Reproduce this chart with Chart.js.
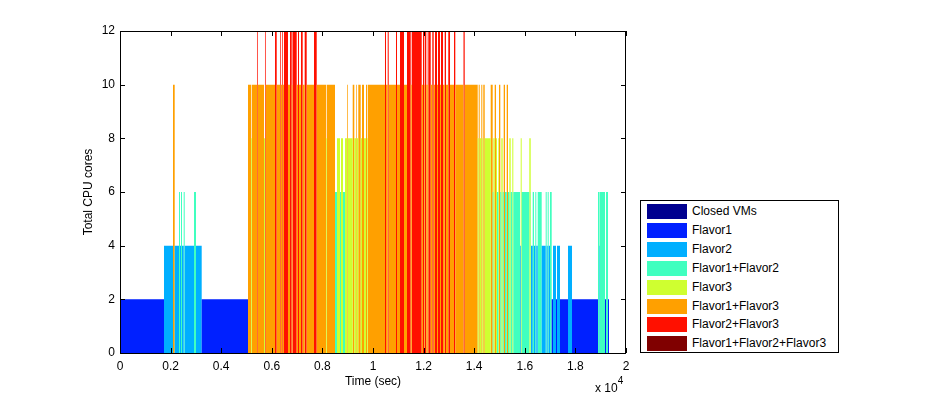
<!DOCTYPE html>
<html>
<head>
<meta charset="utf-8">
<script src="https://cdn.jsdelivr.net/npm/chart.js@4/dist/chart.umd.min.js"></script>
<style>
  body{margin:0;background:#fff;font-family:"Liberation Sans",Arial,sans-serif;}
  #wrap{position:relative;width:926px;height:397px;}
  #legend{position:absolute;left:640px;top:200px;width:197px;height:151px;border:1px solid #000;background:#fff;}
  .row{position:absolute;left:6px;height:15px;font-size:12px;line-height:15px;color:#000;}
  .sw{position:absolute;left:0;top:0;width:40px;height:15px;}
  .lab{position:absolute;left:45px;top:0;white-space:nowrap;}
  #exp{position:absolute;left:595px;top:381px;font-size:12px;color:#000;white-space:nowrap;}
  #exp sup{position:relative;top:-3px;font-size:10px;vertical-align:super;line-height:0;}
</style>
</head>
<body>
<div id="wrap">
  <canvas id="chart" width="926" height="397"></canvas>
  <div id="legend"></div>
  <div id="exp">x 10<sup>4</sup></div>
</div>
<script>
// VM states (legend order) and their colours
const states = ['Closed VMs','Flavor1','Flavor2','Flavor1+Flavor2','Flavor3','Flavor1+Flavor3','Flavor2+Flavor3','Flavor1+Flavor2+Flavor3'];
const stateColors = ['#00008f','#0020ff','#00afff','#40ffbf','#cfff30','#ffa000','#ff1000','#800000'];

// timeline: each segment starts at segStart[i] (sec) and lasts until the next one
const segStart = [
  0,1739,2095,2162,2332,2372,2411,2451,2518,2557,2925,3004,3229,
  5059,5178,5206,5415,5443,5692,5731,5759,6127,6194,6324,6352,6403,6431,6482,6640,6719,6787,6818,6984,7036,7075,7154,7221,7300,7379,7668,7775,
  8142,8170,8498,8577,8696,8735,8814,8893,8984,9012,9198,9261,9328,9356,9419,9514,9565,9644,9723,9763,9791,
  10474,10514,10581,10621,10909,10949,11067,11225,11344,11490,11530,11925,11976,12028,12055,12107,12162,12202,12214,12281,12344,12399,12451,12530,12569,12648,12688,12767,12834,12885,12976,13044,13202,13253,13577,13625,
  14138,14178,14218,14281,14320,14360,14415,14652,14731,14755,14810,14862,14901,14953,14980,15032,15071,15127,15166,15218,15285,15336,15387,15443,15506,15546,
  15810,15838,15877,16178,16234,16245,16312,16364,16415,16455,16510,16668,16826,16865,16905,16944,16996,17063,17115,17233,17273,17391,17708,17866,18893,18945,18961,19170,19210,19289
];
const segState = [
  1,2,5,2,3,2,3,2,3,2,3,2,1,
  5,4,5,6,5,4,6,5,6,5,6,5,6,5,6,5,6,5,6,5,6,5,6,5,6,5,6,5,
  4,5,3,4,3,4,3,4,5,4,5,4,5,4,5,4,5,4,5,4,5,
  6,5,6,5,6,5,6,5,6,5,6,5,6,5,6,5,6,5,6,5,6,5,6,5,6,5,6,5,6,5,6,5,6,5,6,5,
  4,5,4,5,4,5,4,5,3,4,5,4,3,4,5,3,4,3,5,3,5,3,4,3,4,3,
  2,4,3,4,3,2,3,2,3,2,3,2,3,2,3,2,3,1,2,1,2,1,2,1,3,2,3,1,3,1
];
const segCores = [
  2,4,10,4,6,4,6,4,6,4,6,4,2,
  10,8,10,12,10,8,12,10,12,10,12,10,12,10,12,10,12,10,12,10,12,10,12,10,12,10,12,10,
  8,10,6,8,6,8,6,8,10,8,10,8,10,8,10,8,10,8,10,8,10,
  12,10,12,10,12,10,12,10,12,10,12,10,12,10,12,10,12,10,12,10,12,10,12,10,12,10,12,10,12,10,12,10,12,10,12,10,
  8,10,8,10,8,10,8,10,6,8,10,8,6,8,10,6,8,6,10,6,10,6,8,6,8,6,
  4,8,6,8,6,4,6,4,6,4,6,4,6,4,6,4,6,2,4,2,4,2,4,2,6,4,6,2,6,2
];
const endTime = 19328;

const xTicks = [0,2000,4000,6000,8000,10000,12000,14000,16000,18000,20000];
const yTicks = [0,2,4,6,8,10,12];

const font = {family:'"Liberation Sans", Arial, sans-serif', size:12};

// one stepped, filled series per state
const datasets = states.map((name, s) => {
  const pts = [{x:0, y:0}];
  segStart.forEach((t0, i) => {
    if (segState[i] !== s) return;
    const t1 = i + 1 < segStart.length ? segStart[i + 1] : endTime;
    pts.push({x:t0, y:segCores[i]}, {x:t1, y:0});
  });
  pts.push({x:20000, y:0});
  return {
    label:name, data:pts, stepped:true, fill:'origin',
    backgroundColor:stateColors[s], borderColor:'rgba(0,0,0,0)', borderWidth:0,
    pointRadius:0, pointHoverRadius:0
  };
});

// matlab-like box with inward ticks on all four sides
const boxTicks = {
  id:'boxTicks',
  afterDatasetsDraw(chart){
    const {ctx, chartArea:a, scales:{x, y}} = chart;
    ctx.save();
    ctx.strokeStyle = '#000';
    ctx.lineWidth = 1;
    ctx.beginPath();
    xTicks.forEach(v => {
      const px = Math.round(x.getPixelForValue(v)) + 0.5;
      ctx.moveTo(px, a.bottom); ctx.lineTo(px, a.bottom - 5);
      ctx.moveTo(px, a.top); ctx.lineTo(px, a.top + 5);
    });
    yTicks.forEach(v => {
      const py = Math.round(y.getPixelForValue(v)) + 0.5;
      ctx.moveTo(a.left, py); ctx.lineTo(a.left + 5, py);
      ctx.moveTo(a.right, py); ctx.lineTo(a.right - 5, py);
    });
    ctx.stroke();
    ctx.strokeRect(a.left + 0.5, a.top + 0.5, a.right - a.left - 1, a.bottom - a.top);
    ctx.restore();
  }
};

new Chart(document.getElementById('chart').getContext('2d'), {
  type:'line',
  data:{datasets},
  options:{
    responsive:false, animation:false,
    layout:{padding:{top:31, right:300, left:0, bottom:0}},
    elements:{line:{tension:0}},
    plugins:{legend:{display:false}, tooltip:{enabled:false}},
    scales:{
      x:{
        type:'linear', min:0, max:20000,
        afterFit:s => { s.height = 44; },
        afterBuildTicks:s => { s.ticks = xTicks.map(v => ({value:v})); },
        grid:{display:false, drawTicks:false}, border:{display:false},
        ticks:{padding:6, color:'#000', font, maxRotation:0, callback:v => String(Math.round(v / 1000) / 10)},
        title:{display:true, text:'Time (sec)', color:'#000', font, padding:{top:0, bottom:8}}
      },
      y:{
        min:0, max:12,
        afterFit:s => { s.width = 120; },
        afterBuildTicks:s => { s.ticks = yTicks.map(v => ({value:v})); },
        grid:{display:false, drawTicks:false}, border:{display:false},
        ticks:{padding:5, color:'#000', font},
        title:{display:true, text:'Total CPU cores', color:'#000', font, padding:{top:81, bottom:0}}
      }
    }
  },
  plugins:[boxTicks]
});

// legend
const legend = document.getElementById('legend');
states.forEach((name, i) => {
  const row = document.createElement('div');
  row.className = 'row';
  row.style.top = (3 + i * 18.9) + 'px';
  row.innerHTML = `<span class="sw" style="background:${stateColors[i]}"></span><span class="lab">${name}</span>`;
  legend.appendChild(row);
});
</script>
</body>
</html>
